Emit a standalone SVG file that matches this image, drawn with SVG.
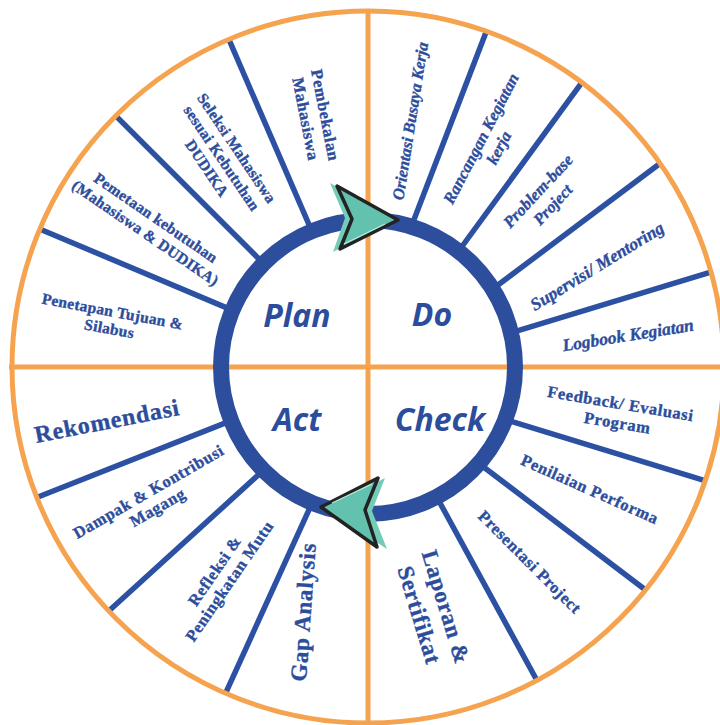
<svg xmlns="http://www.w3.org/2000/svg" width="720" height="725" viewBox="0 0 720 725">
  <style>
    .frame { fill: none; stroke: #f5a34f; stroke-width: 5; }
    .sp { stroke: #2c51a3; stroke-width: 5.5; }
    .ring { fill: none; stroke: #2d4e9d; stroke-width: 16; }
    .lb { font-family: "Liberation Serif", "Times New Roman", serif; font-weight: bold; font-size: 16.5px; fill: #2c4d9c; stroke: #2c4d9c; stroke-width: 0.35px; text-anchor: middle; letter-spacing: 0.6px; }
    .it { font-style: italic; letter-spacing: 0; }
    .sm { font-size: 15.5px; letter-spacing: 0.3px; }
    .big { font-size: 23px; letter-spacing: 0.8px; }
    .ph { font-family: "Open Sans", "Liberation Sans", sans-serif; font-weight: bold; font-style: italic; font-size: 32px; fill: #2c4d9c; text-anchor: middle; }
    .back { fill: #72ccb8; }
    .front { fill: #62c2ad; stroke: #232323; stroke-width: 3.5; stroke-linejoin: round; }
  </style>
  <rect width="720" height="725" fill="#ffffff"/>

  <!-- quadrant cross -->
  <g id="cross">
    <line class="frame" x1="368" y1="10" x2="368" y2="724"/>
    <line class="frame" x1="9" y1="367" x2="727" y2="367"/>
  </g>

  <!-- spokes between the hub ring and the outer rim -->
  <g id="connectors">
    <line class="sp" x1="310.2" y1="227.3" x2="229.2" y2="40.2"/>
    <line class="sp" x1="258.7" y1="258.7" x2="116.6" y2="116.6"/>
    <line class="sp" x1="227.4" y1="308.1" x2="40.2" y2="229.2"/>
    <line class="sp" x1="412.1" y1="224.5" x2="485.7" y2="33.1"/>
    <line class="sp" x1="458.3" y1="251.5" x2="581.2" y2="83.4"/>
    <line class="sp" x1="491.6" y1="289.8" x2="659.6" y2="163.8"/>
    <line class="sp" x1="512.3" y1="332.3" x2="709.9" y2="272.4"/>
    <line class="sp" x1="505.4" y1="419.7" x2="704.9" y2="480.6"/>
    <line class="sp" x1="478.6" y1="463.2" x2="644.6" y2="589.2"/>
    <line class="sp" x1="436.2" y1="496.0" x2="536.0" y2="678.8"/>
    <line class="sp" x1="227.4" y1="422.1" x2="36.1" y2="497.7"/>
    <line class="sp" x1="260.9" y1="472.6" x2="108.5" y2="611.3"/>
    <line class="sp" x1="311.3" y1="504.7" x2="226.2" y2="691.8"/>
  </g>

  <!-- outer rim -->
  <circle id="rim" class="frame" cx="368" cy="367" r="356"/>

  <!-- hub ring -->
  <circle id="hub" class="ring" cx="368" cy="367" r="147"/>

  <!-- cycle arrows on the hub -->
  <g id="arrow-top">
    <polygon class="back" points="330,183 392,219 333,252 345,218"/>
    <polygon class="front" points="337,186 398,220 340,249 352,219"/>
    <line x1="344" y1="244" x2="385" y2="224" stroke="#bfe8de" stroke-width="1.2"/>
  </g>
  <g id="arrow-bottom">
    <polygon class="back" points="385,478 325,508 387,549 372,511"/>
    <polygon class="front" points="378,478 321,507 377,547 365,510"/>
    <line x1="332" y1="503" x2="372" y2="484" stroke="#bfe8de" stroke-width="1.2"/>
  </g>

  <!-- phase names -->
  <g id="phase-plan"><text class="ph" x="297" y="327">Plan</text></g>
  <g id="phase-do"><text class="ph" x="432" y="326">Do</text></g>
  <g id="phase-act"><text class="ph" x="297" y="431">Act</text></g>
  <g id="phase-check"><text class="ph" x="440" y="431">Check</text></g>

  <!-- Plan activities -->
  <g id="plan-1" transform="translate(316,117) rotate(79)">
    <text class="lb"><tspan x="0" y="-4">Pembekalan</tspan><tspan x="0" y="16">Mahasiswa</tspan></text>
  </g>
  <g id="plan-2" transform="translate(222,158) rotate(56)">
    <text class="lb sm"><tspan x="0" y="-12.5">Seleksi Mahasiswa</tspan><tspan x="0" y="5.5">sesuai Kebutuhan</tspan><tspan x="0" y="23.5">DUDIKA</tspan></text>
  </g>
  <g id="plan-3" transform="translate(151,225) rotate(34.5)">
    <text class="lb sm"><tspan x="0" y="-3.5">Pemetaan kebutuhan</tspan><tspan x="0" y="15">(Mahasiswa &amp; DUDIKA)</tspan></text>
  </g>
  <g id="plan-4" transform="translate(111,319.5) rotate(10.5)">
    <text class="lb sm"><tspan x="0" y="-3">Penetapan Tujuan &amp;</tspan><tspan x="0" y="14.5">Silabus</tspan></text>
  </g>

  <!-- Do activities -->
  <g id="do-1" transform="translate(410,121) rotate(-81)">
    <text class="lb it" y="5.8">Orientasi Busaya Kerja</text>
  </g>
  <g id="do-2" transform="translate(489.5,143) rotate(-62.5)">
    <text class="lb it"><tspan x="0" y="-4">Rancangan Kegiatan</tspan><tspan x="0" y="16">kerja</tspan></text>
  </g>
  <g id="do-3" transform="translate(545,197.5) rotate(-47)">
    <text class="lb it"><tspan x="0" y="-4">Problem-base</tspan><tspan x="0" y="16">Project</tspan></text>
  </g>
  <g id="do-4" transform="translate(597,266) rotate(-31.5)">
    <text class="lb it" style="font-size:17.5px" y="6">Supervisi/ Mentoring</text>
  </g>
  <g id="do-5" transform="translate(628,335) rotate(-9)">
    <text class="lb it" style="font-size:17.5px" y="6">Logbook Kegiatan</text>
  </g>

  <!-- Check activities -->
  <g id="check-1" transform="translate(619,413) rotate(9.5)">
    <text class="lb"><tspan x="0" y="-4">Feedback/ Evaluasi</tspan><tspan x="0" y="15.5">Program</tspan></text>
  </g>
  <g id="check-2" transform="translate(590,489) rotate(24)">
    <text class="lb" y="5.8">Penilaian Performa</text>
  </g>
  <g id="check-3" transform="translate(530,562) rotate(45)">
    <text class="lb" y="5.8">Presentasi Project</text>
  </g>
  <g id="check-4" transform="translate(433,611) rotate(73)">
    <text class="lb big"><tspan x="0" y="-6">Laporan &amp;</tspan><tspan x="0" y="22">Sertifikat</tspan></text>
  </g>

  <!-- Act activities -->
  <g id="act-1" transform="translate(107,421) rotate(-11)">
    <text class="lb big" style="font-size:24px" y="8">Rekomendasi</text>
  </g>
  <g id="act-2" transform="translate(153,499.5) rotate(-30)">
    <text class="lb"><tspan x="0" y="-3.5">Dampak &amp; Kontribusi</tspan><tspan x="0" y="14.5">Magang</tspan></text>
  </g>
  <g id="act-3" transform="translate(222,576) rotate(-55.5)">
    <text class="lb"><tspan x="0" y="-3.5">Refleksi &amp;</tspan><tspan x="0" y="14.5">Peningkatan Mutu</tspan></text>
  </g>
  <g id="act-4" transform="translate(303,612) rotate(-86)">
    <text class="lb big" y="8">Gap Analysis</text>
  </g>
</svg>
